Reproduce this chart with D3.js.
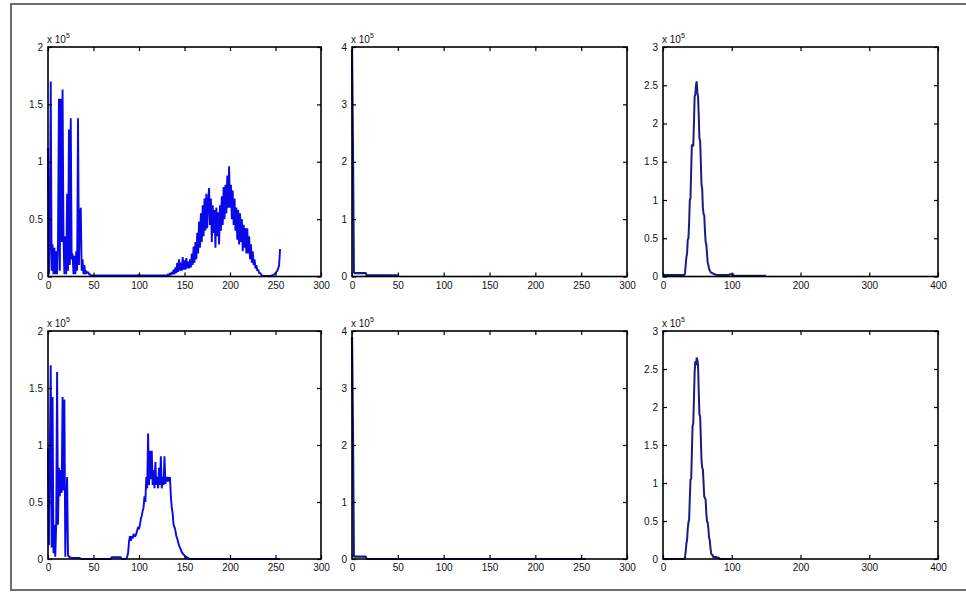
<!DOCTYPE html>
<html><head><meta charset="utf-8">
<script src="https://cdn.jsdelivr.net/npm/d3@7"></script>
<style>
html,body{margin:0;padding:0;background:#fff;}
text{font-family:"Liberation Sans",Arial,sans-serif;}
</style></head>
<body><svg id="c" width="966" height="592"></svg>
<script>
// ---------- data (histogram counts, in units of the axis exponent) ----------
const histTopLeft = [
1.12,0.02,0.3,1.70,0.05,0.28,0.02,0.25,0.02,0.22,
0.02,0.3,1.55,0.05,1.55,0.3,1.63,0.35,0.02,0.35,
0.02,0.72,0.05,1.28,0.1,1.38,0.15,0.2,0.02,0.18,
0.02,0.22,0.05,1.38,0.1,0.52,0.6,0.05,0.15,0.02,
0.1,0.02,0.05,0.03,0.04,0.02,0.02,0.01,0.01,0.01,
0.01,0.01,0.01,0.01,0.01,0.01,0.01,0.01,0.01,0.01,
0.01,0.01,0.01,0.01,0.01,0.01,0.01,0.01,0.01,0.01,
0.01,0.01,0.01,0.01,0.01,0.01,0.01,0.01,0.01,0.01,
0.01,0.01,0.01,0.01,0.01,0.01,0.01,0.01,0.01,0.01,
0.01,0.01,0.01,0.01,0.01,0.01,0.01,0.01,0.01,0.01,
0.015,0.01,0.01,0.01,0.01,0.01,0.01,0.01,0.01,0.01,
0.01,0.01,0.01,0.01,0.01,0.01,0.01,0.01,0.01,0.01,
0.01,0.01,0.01,0.01,0.01,0.01,0.01,0.01,0.01,0.01,
0.01,0.01,0.02,0.01,0.03,0.01,0.04,0.02,0.06,0.02,
0.08,0.03,0.12,0.04,0.15,0.05,0.12,0.05,0.17,0.06,
0.14,0.06,0.16,0.07,0.13,0.07,0.15,0.08,0.2,0.1,
0.26,0.12,0.3,0.15,0.38,0.2,0.48,0.25,0.55,0.3,
0.62,0.35,0.68,0.4,0.72,0.42,0.65,0.77,0.45,0.68,
0.3,0.62,0.38,0.58,0.25,0.6,0.35,0.56,0.28,0.62,
0.4,0.7,0.45,0.78,0.5,0.8,0.55,0.88,0.6,0.96,
0.6,0.8,0.5,0.75,0.45,0.68,0.4,0.6,0.32,0.58,
0.28,0.55,0.3,0.5,0.22,0.45,0.25,0.42,0.2,0.42,
0.2,0.35,0.15,0.28,0.12,0.22,0.1,0.15,0.07,0.1,
0.05,0.06,0.03,0.03,0.02,0.01,0.005,0.005,0.005,0.005,
0.005,0.005,0.005,0.005,0.005,0.005,0.01,0.01,0.015,0.02,
0.03,0.04,0.05,0.07,0.1,0.24];

const histTopMid = [
3.95,2.26,0.08,0.06,0.06,0.06,0.06,0.06,0.06,0.06,
0.06,0.06,0.06,0.06,0.06,0.06,0.02,0.02,0.02,0.02,
0.02,0.02,0.02,0.02,0.02,0.02,0.02,0.02,0.02,0.02,
0.02,0.02,0.02,0.02,0.02,0.02,0.02,0.02,0.02,0.02,
0.02,0.02,0.02,0.02,0.02,0.02,0.02,0.02,0.02,0.02,
0.02];

const histTopRight = [
0.02,0.02,0.02,0.02,0.02,0.02,0.02,0.02,0.02,0.02,
0.02,0.02,0.02,0.02,0.02,0.02,0.02,0.02,0.02,0.02,
0.02,0.02,0.02,0.02,0.02,0.02,0.02,0.02,0.02,0.02,
0.02,0.02,0.04,0.15,0.25,0.3,0.48,0.5,0.7,1.0,
1.02,1.4,1.72,1.72,1.7,2.0,2.35,2.38,2.5,2.55,
2.4,2.35,2.1,1.8,1.78,1.5,1.2,1.15,0.9,0.82,
0.8,0.6,0.45,0.42,0.3,0.18,0.15,0.1,0.08,0.06,
0.05,0.05,0.04,0.04,0.03,0.03,0.03,0.02,0.02,0.02,
0.02,0.02,0.02,0.02,0.02,0.02,0.02,0.02,0.02,0.02,
0.02,0.02,0.02,0.02,0.02,0.02,0.02,0.03,0.03,0.03,
0.03,0.03,0.03,0.01,0.01,0.01,0.01,0.01,0.01,0.01,
0.01,0.01,0.01,0.01,0.01,0.01,0.01,0.01,0.01,0.01,
0.01,0.01,0.01,0.01,0.01,0.01,0.01,0.01,0.01,0.01,
0.01,0.01,0.01,0.01,0.01,0.01,0.01,0.01,0.01,0.01,
0.01,0.01,0.01,0.01,0.01,0.01,0.01,0.01,0.01,0.01,
0.01];

const histBotLeft = [
0.97,0.12,0.95,1.7,0.1,1.42,0.05,0.3,0.02,0.3,
1.64,0.3,0.8,0.55,0.78,0.58,1.42,0.6,1.4,0.02,
0.45,0.72,0.03,0.02,0.02,0.01,0.01,0.01,0.01,0.01,
0.01,0.01,0.01,0.01,0.01,0.01,0,0,0,0,
0,0,0,0,0,0,0,0,0,0,
0,0,0,0,0,0,0,0,0,0,
0,0,0,0,0,0,0,0,0,0,
0.015,0.015,0.015,0.015,0.015,0.015,0.015,0.015,0.015,0.015,
0.015,0,0,0,0,0,0,0.02,0.05,0.15,
0.2,0.16,0.2,0.18,0.22,0.2,0.2,0.22,0.25,0.28,
0.26,0.3,0.35,0.38,0.42,0.45,0.55,0.5,0.72,0.62,
1.1,0.65,0.95,0.7,0.95,0.65,0.78,0.62,0.85,0.65,
0.72,0.62,0.8,0.65,0.9,0.62,0.72,0.65,0.9,0.66,
0.72,0.68,0.72,0.68,0.72,0.55,0.45,0.4,0.3,0.28,
0.25,0.2,0.18,0.15,0.12,0.1,0.08,0.06,0.05,0.04,
0.03,0.02,0.02,0.01,0.01,0,0,0,0,0,
0,0,0,0,0,0,0,0,0,0,
0,0,0,0,0,0,0,0,0,0,
0,0,0,0,0,0,0,0,0,0,
0,0,0,0,0,0,0,0,0,0,
0,0,0,0,0,0,0,0,0,0,
0,0,0,0,0,0,0,0,0,0,
0,0,0,0,0,0,0,0,0,0,
0,0,0,0,0,0,0,0,0,0,
0,0,0,0,0,0,0,0,0,0,
0,0,0,0,0,0];

const histBotMid = [
3.9,2.28,0.05,0.04,0.04,0.04,0.04,0.04,0.04,0.04,
0.04,0.04,0.04,0.04,0.04,0.04,0,0,0,0,
0,0,0,0,0,0,0,0,0,0,
0,0,0,0,0,0,0,0,0,0,
0,0,0,0,0,0,0,0,0,0,
0,0,0,0,0,0,0,0,0,0,
0,0,0,0,0,0,0,0,0,0,
0,0,0,0,0,0,0,0,0,0,
0,0,0,0,0,0,0,0,0,0,
0,0,0,0,0,0,0,0,0,0,
0,0,0,0,0,0,0,0,0,0,
0,0,0,0,0,0,0,0,0,0,
0,0,0,0,0,0,0,0,0,0,
0,0,0,0,0,0,0,0,0,0,
0,0,0,0,0,0,0,0,0,0,
0,0,0,0,0,0,0,0,0,0,
0,0,0,0,0,0,0,0,0,0,
0,0,0,0,0,0,0,0,0,0,
0,0,0,0,0,0,0,0,0,0,
0,0,0,0,0,0,0,0,0,0,
0,0,0,0,0,0,0,0,0,0,
0,0,0,0,0,0,0,0,0,0,
0,0,0,0,0,0,0,0,0,0,
0,0,0,0,0,0,0,0,0,0,
0,0,0,0,0,0,0,0,0,0,
0,0,0,0,0,0];

const histBotRight = [
0,0,0,0,0,0,0,0,0,0,
0,0,0,0,0,0,0,0,0,0,
0,0,0,0,0,0,0,0,0,0,
0,0,0.02,0.1,0.2,0.25,0.4,0.48,0.52,0.8,
1.05,1.05,1.4,1.75,1.78,2.1,2.45,2.6,2.55,2.65,
2.62,2.55,2.2,1.9,1.88,1.6,1.3,1.2,1.18,1.0,
0.82,0.8,0.78,0.6,0.5,0.48,0.4,0.28,0.25,0.15,
0.08,0.05,0.06,0.03,0.02,0.03,0.02,0.03,0.02,0.02,
0.02,0.01,0.01,0,0,0,0,0,0,0,
0,0,0,0,0,0,0,0,0,0];

const xTicks256 = [0,50,100,150,200,250,300];
const xTicks400 = [0,100,200,300,400];
const yTicksA = [0,0.5,1,1.5,2];
const yTicksB = [0,1,2,3,4];
const yTicksC = [0,0.5,1,1.5,2,2.5,3];
const exponentLabels = ["5","5","5","5","5","5"];

// ---------- layout ----------
const svg = d3.select("#c");
svg.append("rect").attr("x",11).attr("y",4).attr("width",970).attr("height",586)
  .attr("fill","#fff").attr("stroke","#6e6e6e").attr("stroke-width",2);

const cols = [[48,321],[352,627],[663,938]];
const rows = [[47,276.5],[331,559]];

const panels = [
 {data:histTopLeft, xmax:300, ymax:2, xt:xTicks256, yt:yTicksA, col:0,row:0, color:"#0808e8", w:1.9},
 {data:histTopMid, xmax:300, ymax:4, xt:xTicks256, yt:yTicksB, col:1,row:0, color:"#16168c", w:2.2},
 {data:histTopRight, xmax:400, ymax:3, xt:xTicks400, yt:yTicksC, col:2,row:0, color:"#1c1c80", w:2},
 {data:histBotLeft, xmax:300, ymax:2, xt:xTicks256, yt:yTicksA, col:0,row:1, color:"#0808e8", w:1.9},
 {data:histBotMid, xmax:300, ymax:4, xt:xTicks256, yt:yTicksB, col:1,row:1, color:"#16168c", w:2.2},
 {data:histBotRight, xmax:400, ymax:3, xt:xTicks400, yt:yTicksC, col:2,row:1, color:"#1c1c80", w:2}
];

const fmt = v => String(v);

panels.forEach((p,i)=>{
  const [x0,x1] = cols[p.col], [y0,y1] = rows[p.row];
  const x = d3.scaleLinear().domain([0,p.xmax]).range([x0,x1]);
  const y = d3.scaleLinear().domain([0,p.ymax]).range([y1,y0]);
  const g = svg.append("g");

  // data line
  const line = d3.line().x((d,k)=>x(k)).y(d=>y(d));
  g.append("path").datum(p.data).attr("d",line)
    .attr("fill","none").attr("stroke",p.color).attr("stroke-width",p.w)
    .attr("stroke-linejoin","bevel");

  // axes (inward ticks, MATLAB style)
  const ax = (a)=>a.tickSizeInner(-4).tickSizeOuter(0);
  g.append("g").attr("transform",`translate(0,${y1})`)
    .call(ax(d3.axisBottom(x).tickValues(p.xt).tickFormat(fmt)).tickPadding(5));
  g.append("g").attr("transform",`translate(${x0},0)`)
    .call(ax(d3.axisLeft(y).tickValues(p.yt).tickFormat(fmt)).tickPadding(5));
  g.append("g").attr("transform",`translate(0,${y0})`)
    .call(ax(d3.axisTop(x).tickValues(p.xt).tickFormat(""))).call(s=>s.selectAll("text").remove());
  g.append("g").attr("transform",`translate(${x1},0)`)
    .call(ax(d3.axisRight(y).tickValues(p.yt).tickFormat(""))).call(s=>s.selectAll("text").remove());
  g.selectAll(".domain").remove();
  g.selectAll(".tick line").attr("stroke","#000").attr("stroke-width",1.2);
  g.selectAll(".tick text").attr("fill","#111").style("font-size","10px");

  // box
  g.append("rect").attr("x",x0).attr("y",y0).attr("width",x1-x0).attr("height",y1-y0)
    .attr("fill","none").attr("stroke","#000").attr("stroke-width",1.6);

  // exponent label
  const t = g.append("text").attr("x",x0-1).attr("y",y0-4).attr("fill","#111").style("font-size","10px");
  t.append("tspan").text("x 10");
  t.append("tspan").attr("dy",-5).style("font-size","7px").text(exponentLabels[i]);
});
</script></body></html>
